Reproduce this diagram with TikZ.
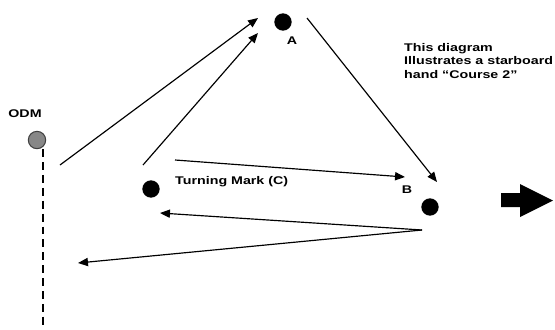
\documentclass[tikz,border=0pt]{standalone}
\usepackage{fontspec}
\setmainfont{Liberation Sans}
\newfontfamily\labelfont[FakeStretch=1.28]{Liberation Sans}
\usetikzlibrary{arrows.meta}

\begin{document}
\begin{tikzpicture}[x=0.03cm, y=-0.03cm,
  buoy/.style={circle, fill=black, inner sep=0pt, minimum size=0.52cm},
  course/.style={line width=1pt, -{Triangle[length=8.5pt, width=7pt]}},
  lbl/.style={font={\labelfont\bfseries\fontsize{9.5}{11.5}\selectfont}, inner sep=0pt}]
\useasboundingbox (0,0) rectangle (555,329);
% marks
\node[buoy, fill={rgb,255:red,135;green,135;blue,135}, draw=black!75, line width=0.9pt] (odm) at (37,140) {};
\node[buoy] (markA) at (283,22) {};
\node[buoy] (markB) at (430,207) {};
\node[buoy] (markC) at (151,189) {};
\node[lbl] (odmlbl) at (25,114) {ODM};
\node[lbl] (lblA) at (292,41) {A};
\node[lbl] (lblB) at (407,190) {B};
\node[lbl, anchor=west] (lblC) at (175,182) {Turning Mark (C)};
\node[lbl, align=left, anchor=north west] (note) at (404,43) {This diagram\\Illustrates a starboard\\hand “Course 2”};
% start line
\coordinate (lineEnd) at (43,329);
\draw[line width=1.3pt, dash pattern=on 6.8pt off 4.2pt] (odm.south) ++(6,0) -- (lineEnd);
% legs of the course
\coordinate (startL) at (60,165);
\coordinate (startR) at (143,165);
\coordinate (toA1) at (258,18);
\coordinate (toA2) at (258,33);
\coordinate (fromA) at (307,18);
\coordinate (toB1) at (437,182);
\coordinate (fromC) at (175,160);
\coordinate (toB2) at (405,177);
\coordinate (fromB) at (422,230);
\coordinate (toC) at (160,213);
\coordinate (toFinish) at (78,263);
\draw[course] (startL) -- (toA1);
\draw[course] (startR) -- (toA2);
\draw[course] (fromA) -- (toB1);
\draw[course] (fromC) -- (toB2);
\draw[course] (fromB) -- (toC);
\draw[course] (fromB) -- (toFinish);
% wind arrow
\fill (501,193) -- (520,193) -- (520,184) -- (553,200.5) -- (520,217) -- (520,207) -- (501,207) -- cycle;
\end{tikzpicture}
\end{document}
